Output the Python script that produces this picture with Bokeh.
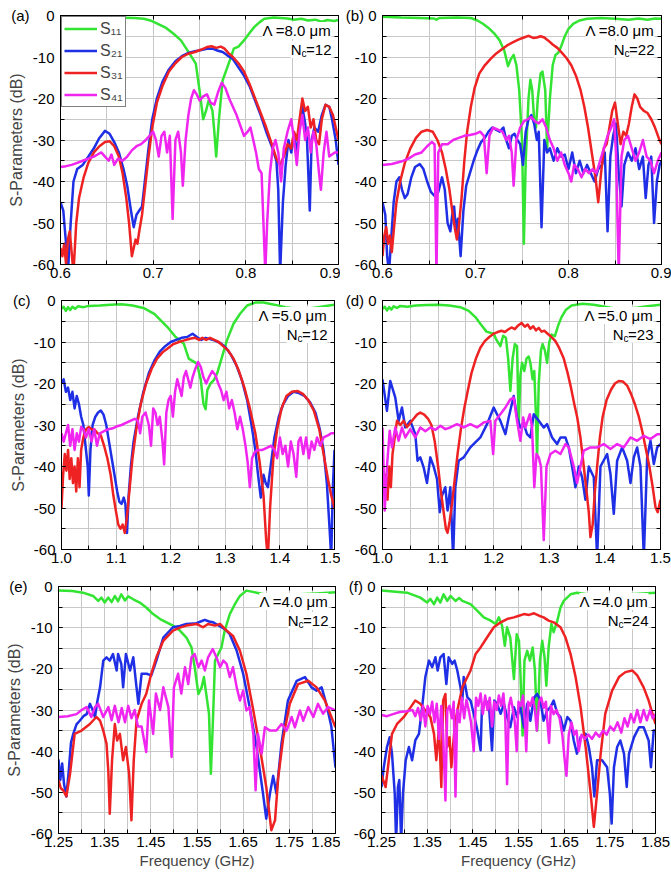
from bokeh.plotting import figure
from bokeh.layouts import column, row
from bokeh.models import (Range1d, FixedTicker, LinearAxis, Legend, LegendItem,
                          Label, PrintfTickFormatter)
from bokeh.embed import file_html
from bokeh.resources import INLINE

FONT = "Liberation Sans"
C11, C21, C31, C41 = "#33e433", "#1f2fe6", "#ee2222", "#f026f0"

# ---------------- tick values ----------------
X_MAJOR_AB = [0.6, 0.7, 0.8, 0.9]
X_MINOR_AB = [0.6, 0.65, 0.7, 0.75, 0.8, 0.85, 0.9]
X_MAJOR_CD = [1.0, 1.1, 1.2, 1.3, 1.4, 1.5]
X_MINOR_CD = [1.0, 1.05, 1.1, 1.15, 1.2, 1.25, 1.3, 1.35, 1.4, 1.45, 1.5]
X_MAJOR_EF = [1.25, 1.35, 1.45, 1.55, 1.65, 1.75, 1.85]
X_MINOR_EF = [1.25, 1.3, 1.35, 1.4, 1.45, 1.5, 1.55, 1.6, 1.65, 1.7, 1.75, 1.8, 1.85]
Y_MAJOR = [-60, -50, -40, -30, -20, -10, 0]
Y_MINOR = [-60, -55, -50, -45, -40, -35, -30, -25, -20, -15, -10, -5, 0]

# ---------------- panel (a): Lambda = 8.0 um, Nc = 12 ----------------
A_S11 = [(0.600,-0.3),(0.620,-0.4),(0.640,-0.5),(0.660,-0.5),(0.680,-0.6),(0.690,-0.8),(0.697,-1.2),(0.705,-2.0),(0.714,-3.0),(0.722,-4.4),(0.730,-6.0),(0.737,-8.4),(0.743,-10.5),(0.746,-11.6),(0.750,-18.0),(0.754,-25.0),(0.757,-23.0),(0.760,-20.4),(0.764,-23.0),(0.766,-28.0),(0.768,-34.0),(0.771,-25.0),(0.775,-15.6),(0.780,-12.5),(0.784,-10.0),(0.787,-8.0),(0.792,-7.5),(0.798,-6.0),(0.804,-4.2),(0.809,-2.8),(0.815,-1.6),(0.820,-0.8),(0.830,-0.5),(0.845,-0.7),(0.852,-1.0),(0.860,-0.8),(0.867,-1.2),(0.875,-1.0),(0.882,-1.5),(0.888,-1.1),(0.895,-1.3),(0.900,-1.1)]
A_S21 = [(0.600,-45),(0.603,-47),(0.606,-55),(0.608,-62),(0.611,-50),(0.614,-40),(0.618,-37),(0.624,-36),(0.630,-34),(0.636,-32),(0.642,-29.5),(0.648,-27.8),(0.653,-28.5),(0.658,-30.5),(0.663,-33),(0.668,-37),(0.672,-41),(0.676,-47),(0.679,-51),(0.682,-48),(0.685,-47),(0.688,-46),(0.691,-40),(0.695,-32),(0.699,-25),(0.704,-20),(0.710,-16),(0.717,-13),(0.724,-11),(0.731,-9.8),(0.738,-9),(0.745,-8.6),(0.752,-8.3),(0.758,-8.0),(0.764,-8.0),(0.770,-8.5),(0.775,-8.8),(0.780,-9.6),(0.786,-10.5),(0.792,-12.5),(0.798,-14.5),(0.804,-17),(0.810,-20.5),(0.816,-24),(0.822,-28),(0.828,-31.5),(0.833,-35),(0.835,-42),(0.837,-62),(0.840,-45),(0.843,-36),(0.846,-30),(0.849,-33),(0.852,-29),(0.855,-33),(0.858,-27),(0.861,-22),(0.864,-26),(0.866,-30),(0.869,-47),(0.871,-30),(0.874,-27),(0.878,-28),(0.882,-24),(0.886,-21.5),(0.890,-22),(0.893,-25),(0.897,-30),(0.900,-36)]
A_S31 = [(0.600,-56),(0.602,-58),(0.604,-55),(0.606,-60),(0.608,-54),(0.610,-52),(0.612,-57),(0.614,-62),(0.617,-50),(0.620,-44),(0.625,-39),(0.630,-35.5),(0.636,-33),(0.642,-31.5),(0.648,-30.5),(0.653,-30.3),(0.658,-31.5),(0.663,-34),(0.667,-38),(0.671,-44),(0.674,-50),(0.677,-58),(0.679,-56),(0.681,-54),(0.683,-55),(0.685,-52),(0.688,-48),(0.691,-42),(0.695,-34),(0.699,-27),(0.704,-21),(0.710,-17),(0.717,-13.5),(0.724,-11.5),(0.731,-10),(0.738,-9.2),(0.745,-8.8),(0.752,-8.2),(0.758,-7.6),(0.763,-7.4),(0.768,-7.8),(0.773,-7.5),(0.777,-8.0),(0.781,-9.0),(0.786,-10),(0.792,-11.5),(0.798,-13.5),(0.804,-16.5),(0.810,-20),(0.816,-23.5),(0.822,-27),(0.828,-31),(0.833,-34.5),(0.837,-36),(0.841,-34),(0.845,-31),(0.849,-32),(0.852,-28),(0.855,-30),(0.858,-25),(0.861,-20),(0.864,-23),(0.867,-22),(0.870,-27),(0.873,-25),(0.876,-30),(0.879,-31),(0.882,-25),(0.886,-21.5),(0.890,-22),(0.894,-24),(0.897,-27),(0.900,-30)]
A_S41 = [(0.600,-36.5),(0.606,-36.3),(0.612,-36),(0.618,-35.5),(0.624,-35),(0.630,-34.5),(0.636,-34),(0.640,-33.5),(0.644,-33),(0.648,-34),(0.652,-35),(0.655,-33.5),(0.658,-36),(0.662,-34.5),(0.667,-35),(0.672,-34),(0.677,-32.5),(0.682,-31.5),(0.687,-31),(0.692,-30),(0.696,-29),(0.700,-28),(0.703,-30),(0.706,-34),(0.709,-29),(0.712,-28),(0.715,-33),(0.718,-29),(0.721,-49),(0.724,-30),(0.727,-28),(0.730,-33),(0.732,-41),(0.735,-30),(0.738,-24),(0.741,-20),(0.744,-18),(0.747,-19),(0.750,-20.5),(0.754,-19.5),(0.758,-19),(0.762,-21),(0.766,-21.5),(0.770,-18.5),(0.774,-16.2),(0.778,-17.5),(0.782,-20),(0.786,-22),(0.790,-24),(0.794,-26.5),(0.798,-29),(0.802,-28),(0.805,-27),(0.808,-30),(0.811,-33),(0.814,-37),(0.817,-38),(0.819,-50),(0.821,-62),(0.823,-50),(0.826,-38),(0.829,-32),(0.832,-30),(0.835,-33),(0.838,-40),(0.841,-32),(0.845,-28),(0.849,-25),(0.852,-30),(0.855,-36),(0.858,-28),(0.861,-24),(0.864,-30),(0.867,-27),(0.870,-33),(0.873,-28),(0.876,-31),(0.879,-38),(0.881,-42),(0.884,-33),(0.887,-28),(0.890,-34),(0.893,-33.5),(0.896,-33),(0.900,-33)]

# ---------------- panel (b): Lambda = 8.0 um, Nc = 22 ----------------
B_S11 = [(0.600,-0.3),(0.620,-0.5),(0.640,-0.6),(0.655,-0.7),(0.658,-1.0),(0.661,-0.6),(0.680,-0.5),(0.695,-0.6),(0.702,-1.2),(0.708,-2.0),(0.714,-3.0),(0.720,-4.3),(0.726,-6.0),(0.731,-8.5),(0.735,-12.2),(0.738,-10.5),(0.741,-9.5),(0.744,-12),(0.747,-18),(0.750,-30),(0.752,-55),(0.754,-35),(0.757,-20),(0.759,-15.5),(0.761,-18),(0.763,-25),(0.765,-27),(0.767,-20),(0.770,-14),(0.772,-13.5),(0.775,-18),(0.777,-32),(0.780,-20),(0.783,-12),(0.786,-9.5),(0.789,-9),(0.792,-7.5),(0.796,-5),(0.800,-3.2),(0.805,-2),(0.812,-1.2),(0.820,-0.8),(0.835,-0.6),(0.850,-0.8),(0.865,-1.0),(0.875,-0.7),(0.885,-1.0),(0.893,-0.7),(0.900,-0.8)]
B_S21 = [(0.600,-45),(0.603,-48),(0.605,-58),(0.607,-62),(0.609,-55),(0.612,-45),(0.615,-40),(0.618,-39),(0.621,-42),(0.624,-44),(0.627,-43),(0.631,-39),(0.635,-36.5),(0.640,-35.8),(0.644,-37),(0.648,-40),(0.652,-42.5),(0.656,-43.5),(0.660,-42.5),(0.664,-39),(0.667,-42),(0.670,-50),(0.673,-52),(0.675,-48),(0.677,-46),(0.679,-52),(0.681,-49),(0.684,-58),(0.687,-47),(0.690,-41),(0.694,-38),(0.698,-35),(0.702,-32.5),(0.706,-30.5),(0.710,-29.5),(0.714,-28),(0.718,-27),(0.722,-27.5),(0.726,-28),(0.730,-27),(0.733,-30),(0.736,-32),(0.739,-29),(0.742,-28.5),(0.745,-30),(0.748,-31),(0.751,-36),(0.754,-28),(0.757,-25),(0.760,-24),(0.763,-26),(0.766,-30),(0.768,-28),(0.771,-51),(0.774,-30),(0.777,-33),(0.780,-32),(0.784,-35),(0.788,-32),(0.792,-34),(0.796,-33.5),(0.800,-37),(0.804,-33),(0.808,-38),(0.812,-35),(0.816,-38),(0.820,-36),(0.824,-38),(0.828,-40),(0.832,-37),(0.836,-36),(0.839,-33),(0.842,-52),(0.845,-34),(0.848,-29),(0.851,-26),(0.854,-38),(0.857,-46),(0.860,-36),(0.864,-33),(0.868,-35),(0.872,-32),(0.876,-37),(0.880,-34),(0.883,-44),(0.886,-36),(0.889,-34),(0.892,-50),(0.895,-40),(0.898,-36),(0.900,-35)]
B_S31 = [(0.600,-58),(0.602,-53),(0.604,-51),(0.606,-55),(0.608,-53),(0.610,-57),(0.612,-52),(0.615,-45),(0.619,-40),(0.624,-35.5),(0.630,-32),(0.636,-29.5),(0.642,-28),(0.648,-27.6),(0.654,-28),(0.659,-30),(0.664,-33),(0.668,-37),(0.672,-42),(0.675,-47),(0.678,-51.5),(0.680,-54),(0.682,-51),(0.685,-44),(0.688,-35),(0.691,-28),(0.695,-22),(0.699,-17.5),(0.704,-14),(0.710,-12),(0.716,-10.5),(0.722,-9.2),(0.728,-8.2),(0.734,-7.2),(0.740,-6.5),(0.746,-5.8),(0.752,-5.3),(0.757,-4.9),(0.762,-5.4),(0.766,-5.3),(0.770,-5.0),(0.774,-5.3),(0.778,-6.0),(0.783,-7.0),(0.788,-7.8),(0.793,-9.0),(0.798,-10.3),(0.803,-12),(0.808,-14.5),(0.813,-18),(0.817,-22),(0.821,-27),(0.825,-33),(0.829,-39),(0.832,-45),(0.835,-38),(0.838,-32),(0.841,-31),(0.844,-27),(0.847,-23),(0.850,-21),(0.853,-26),(0.856,-31),(0.859,-28),(0.862,-29),(0.865,-26),(0.868,-22),(0.871,-19),(0.874,-20),(0.877,-22),(0.881,-23),(0.885,-23.5),(0.889,-25),(0.893,-27),(0.897,-29.5),(0.900,-31)]
B_S41 = [(0.600,-36),(0.610,-35.8),(0.620,-35.2),(0.628,-34.5),(0.635,-33.5),(0.642,-33),(0.648,-31.5),(0.653,-30.5),(0.656,-31),(0.658,-62),(0.660,-33),(0.664,-31),(0.670,-31),(0.676,-30),(0.682,-29.5),(0.688,-29),(0.694,-28.8),(0.700,-28.5),(0.705,-28),(0.709,-29),(0.712,-38),(0.715,-29),(0.719,-27),(0.724,-27.5),(0.729,-28),(0.733,-30),(0.736,-29),(0.739,-33),(0.741,-41),(0.744,-30),(0.748,-27),(0.752,-25.5),(0.756,-25),(0.760,-24.5),(0.764,-25.5),(0.768,-26),(0.772,-25),(0.776,-27),(0.780,-30),(0.784,-32),(0.788,-35),(0.792,-33),(0.796,-36),(0.800,-38),(0.803,-40),(0.806,-36),(0.810,-37),(0.814,-39),(0.818,-37),(0.822,-38),(0.826,-37),(0.830,-38),(0.834,-35),(0.838,-32),(0.842,-29),(0.846,-27),(0.849,-25),(0.851,-33),(0.854,-62),(0.857,-34),(0.860,-30),(0.864,-29),(0.868,-32),(0.872,-35),(0.876,-33),(0.880,-30),(0.884,-34),(0.888,-35),(0.892,-38),(0.896,-35),(0.900,-33)]

# ---------------- panel (c): Lambda = 5.0 um, Nc = 12 ----------------
C_S11 = [(1.000,-2.0),(1.004,-1.5),(1.008,-2.5),(1.012,-1.6),(1.016,-2.3),(1.020,-1.5),(1.025,-2.0),(1.030,-1.4),(1.040,-1.6),(1.050,-1.3),(1.070,-1.2),(1.090,-1.0),(1.110,-0.9),(1.130,-1.2),(1.150,-1.8),(1.170,-3.2),(1.194,-6.4),(1.209,-8.8),(1.224,-10.4),(1.233,-14.0),(1.248,-15.2),(1.255,-19.0),(1.260,-24.9),(1.264,-26.2),(1.267,-21.6),(1.273,-20.0),(1.279,-19.2),(1.285,-17.6),(1.294,-13.6),(1.303,-9.6),(1.315,-5.6),(1.327,-3.2),(1.340,-1.2),(1.355,-0.5),(1.370,-0.5),(1.390,-1.0),(1.410,-1.6),(1.430,-2.0),(1.450,-2.0),(1.470,-1.6),(1.490,-1.2),(1.500,-1.0)]
C_S21 = [(1.000,-20),(1.004,-19),(1.008,-22),(1.012,-21),(1.016,-24),(1.020,-22),(1.024,-26),(1.028,-23),(1.032,-25),(1.036,-28),(1.040,-30),(1.044,-35),(1.048,-40),(1.050,-47),(1.053,-36),(1.057,-30),(1.062,-28),(1.067,-27),(1.072,-26.5),(1.077,-27.5),(1.082,-30),(1.087,-34),(1.092,-38),(1.097,-42),(1.102,-46),(1.106,-48.5),(1.110,-49),(1.114,-47.5),(1.117,-49),(1.120,-56),(1.123,-47),(1.127,-40),(1.132,-34),(1.140,-28),(1.150,-22),(1.160,-17.5),(1.170,-14.5),(1.180,-12.3),(1.190,-11),(1.200,-10),(1.210,-9.5),(1.220,-9.0),(1.230,-8.8),(1.240,-8.0),(1.248,-8.8),(1.256,-9.5),(1.264,-9.0),(1.272,-9.3),(1.280,-9.6),(1.290,-10.2),(1.300,-11.2),(1.310,-13),(1.320,-15.5),(1.330,-19),(1.340,-24),(1.348,-30),(1.355,-36),(1.360,-42),(1.365,-47.5),(1.370,-42),(1.374,-44),(1.378,-45),(1.383,-40),(1.390,-33),(1.398,-28),(1.406,-25),(1.415,-23),(1.425,-22),(1.435,-22.3),(1.445,-23),(1.455,-24.5),(1.465,-27),(1.473,-31),(1.480,-36),(1.486,-44),(1.491,-55),(1.494,-62),(1.497,-45),(1.500,-36)]
C_S31 = [(1.000,-50),(1.003,-42),(1.006,-37),(1.009,-41),(1.012,-36),(1.015,-43),(1.018,-38),(1.021,-44),(1.024,-40),(1.027,-46),(1.030,-38),(1.033,-45),(1.036,-36),(1.040,-33),(1.045,-31),(1.050,-30.5),(1.055,-31),(1.060,-31),(1.066,-32),(1.072,-32.5),(1.078,-35),(1.084,-38),(1.090,-42),(1.095,-47),(1.100,-51),(1.104,-54),(1.108,-55),(1.112,-54),(1.116,-56),(1.120,-52),(1.125,-45),(1.130,-38),(1.137,-31),(1.145,-25),(1.155,-20),(1.165,-16.5),(1.175,-14),(1.185,-12.5),(1.195,-11.5),(1.205,-10.5),(1.215,-10),(1.225,-9.6),(1.235,-9.2),(1.245,-9.0),(1.252,-9.5),(1.258,-9.0),(1.265,-9.5),(1.272,-9.0),(1.280,-9.5),(1.288,-10),(1.296,-11),(1.305,-12),(1.315,-14),(1.325,-17),(1.335,-21),(1.345,-26),(1.355,-32),(1.363,-39),(1.370,-47),(1.375,-58),(1.378,-62),(1.382,-50),(1.388,-38),(1.395,-31),(1.403,-26),(1.412,-23),(1.422,-22),(1.432,-21.8),(1.442,-22.5),(1.452,-24),(1.462,-26.5),(1.472,-31),(1.480,-37),(1.488,-43),(1.494,-47),(1.500,-50)]
C_S41 = [(1.000,-32),(1.004,-34),(1.008,-32),(1.012,-30),(1.016,-35),(1.020,-31),(1.024,-36),(1.028,-32),(1.032,-34),(1.036,-30.5),(1.040,-31),(1.045,-33),(1.050,-31),(1.055,-34),(1.060,-31),(1.065,-35),(1.070,-32),(1.078,-31.5),(1.086,-31),(1.094,-30.8),(1.102,-30.3),(1.110,-30),(1.118,-29.5),(1.126,-29),(1.134,-28.5),(1.140,-29),(1.144,-32),(1.148,-28),(1.154,-27),(1.160,-30),(1.164,-35),(1.168,-26),(1.172,-27),(1.176,-30),(1.180,-28),(1.185,-34),(1.188,-39.5),(1.192,-27),(1.196,-24),(1.200,-23),(1.204,-28),(1.208,-22),(1.212,-19),(1.216,-21),(1.220,-23),(1.224,-18.5),(1.228,-17),(1.232,-19),(1.236,-21),(1.240,-18.5),(1.245,-16.5),(1.250,-14.8),(1.255,-16),(1.260,-18.5),(1.265,-20),(1.270,-18.5),(1.276,-17),(1.282,-18),(1.287,-20),(1.292,-21.5),(1.297,-24),(1.302,-22),(1.307,-26),(1.312,-24),(1.317,-27),(1.322,-31),(1.327,-28),(1.332,-31),(1.337,-35),(1.341,-39),(1.345,-45),(1.349,-38),(1.354,-36.5),(1.360,-36),(1.368,-36),(1.376,-35.5),(1.384,-35),(1.390,-36),(1.395,-38),(1.400,-33),(1.405,-37),(1.410,-35),(1.415,-40),(1.420,-34),(1.425,-37),(1.430,-42.5),(1.434,-34),(1.438,-33),(1.443,-37),(1.448,-33),(1.453,-38),(1.458,-34),(1.463,-36),(1.468,-33),(1.474,-35),(1.480,-33),(1.488,-32.5),(1.494,-32),(1.500,-32)]

# ---------------- panel (d): Lambda = 5.0 um, Nc = 23 ----------------
D_S11 = [(1.000,-2.0),(1.004,-1.5),(1.008,-2.4),(1.012,-1.6),(1.016,-2.2),(1.020,-1.4),(1.026,-1.8),(1.032,-1.3),(1.045,-1.5),(1.060,-1.2),(1.080,-1.1),(1.100,-1.0),(1.120,-1.2),(1.140,-1.6),(1.155,-2.5),(1.167,-4.0),(1.177,-5.8),(1.187,-7.5),(1.200,-8.0),(1.205,-9.5),(1.212,-11),(1.217,-8.5),(1.222,-9),(1.226,-14),(1.230,-21.8),(1.234,-14),(1.238,-10.5),(1.242,-11),(1.245,-30),(1.248,-18),(1.251,-15),(1.255,-17),(1.259,-14),(1.263,-13.5),(1.266,-15),(1.270,-19),(1.273,-17),(1.276,-28),(1.278,-37.8),(1.281,-20),(1.285,-12),(1.288,-10.5),(1.292,-12),(1.296,-15),(1.300,-10),(1.304,-8.2),(1.310,-8.6),(1.316,-6),(1.322,-4),(1.330,-2.2),(1.340,-1.2),(1.360,-0.8),(1.380,-1.0),(1.400,-1.5),(1.420,-2.0),(1.440,-2.0),(1.460,-1.7),(1.480,-1.3),(1.500,-1.0)]
D_S21 = [(1.000,-19),(1.008,-26.6),(1.014,-19.4),(1.023,-23.4),(1.029,-29),(1.035,-25.8),(1.041,-30.6),(1.050,-29),(1.059,-32.2),(1.063,-38.6),(1.068,-37.8),(1.074,-40.2),(1.080,-44),(1.086,-37.8),(1.092,-40),(1.098,-43),(1.103,-51),(1.107,-47),(1.113,-45),(1.117,-50.6),(1.122,-45),(1.127,-62),(1.131,-45),(1.137,-38.6),(1.146,-37.8),(1.158,-35.4),(1.176,-33),(1.188,-29.8),(1.200,-25.8),(1.206,-27.4),(1.212,-29),(1.221,-32.2),(1.227,-28.2),(1.236,-23),(1.242,-28.2),(1.248,-30.6),(1.254,-29.8),(1.260,-32.2),(1.266,-33),(1.272,-27.4),(1.281,-29),(1.290,-30.6),(1.296,-29.8),(1.305,-33),(1.314,-34.6),(1.320,-33),(1.329,-33),(1.335,-35.4),(1.341,-40),(1.347,-45),(1.353,-40),(1.359,-42.6),(1.365,-48),(1.371,-40),(1.380,-42.6),(1.386,-62),(1.392,-40),(1.404,-37),(1.410,-41.8),(1.416,-51.4),(1.422,-38.6),(1.431,-35.4),(1.440,-38.6),(1.446,-44),(1.452,-37.8),(1.458,-35.4),(1.464,-40),(1.470,-62),(1.476,-37.8),(1.482,-33.8),(1.488,-39.4),(1.494,-35.4),(1.500,-34.6)]
D_S31 = [(1.000,-38),(1.003,-46),(1.006,-42),(1.009,-48),(1.012,-40),(1.015,-45),(1.018,-37),(1.022,-33),(1.026,-29),(1.032,-30),(1.038,-29),(1.044,-30.5),(1.050,-29.5),(1.056,-28.5),(1.062,-27.5),(1.068,-27),(1.075,-27.5),(1.082,-28.5),(1.088,-30),(1.094,-34),(1.100,-40),(1.105,-46),(1.110,-51),(1.114,-55),(1.117,-56),(1.121,-53),(1.125,-49),(1.130,-43),(1.135,-37),(1.141,-31),(1.147,-26),(1.153,-22),(1.160,-17.5),(1.168,-14),(1.176,-11.4),(1.184,-9.8),(1.192,-8.8),(1.200,-8.0),(1.207,-7.6),(1.214,-7.3),(1.220,-7.6),(1.226,-7.0),(1.232,-6.5),(1.238,-6.9),(1.244,-6.0),(1.250,-5.4),(1.256,-6.3),(1.261,-5.8),(1.266,-6.8),(1.271,-6.2),(1.276,-7.2),(1.281,-6.6),(1.286,-7.5),(1.291,-7.3),(1.297,-8.0),(1.304,-8.8),(1.311,-9.8),(1.318,-11.5),(1.326,-14),(1.333,-17.5),(1.339,-21),(1.345,-25),(1.350,-28),(1.356,-33),(1.362,-40),(1.367,-46),(1.371,-51),(1.374,-57),(1.378,-54),(1.382,-46),(1.386,-40),(1.391,-33),(1.396,-28),(1.403,-24),(1.411,-21.5),(1.418,-20),(1.425,-19.4),(1.432,-19.5),(1.440,-20.5),(1.447,-22.5),(1.454,-25),(1.461,-28),(1.468,-32),(1.474,-36),(1.480,-40),(1.486,-45),(1.491,-49.8),(1.495,-51),(1.500,-48)]
D_S41 = [(1.000,-30.6),(1.004,-50.6),(1.008,-40),(1.013,-31.4),(1.017,-35.4),(1.023,-30.6),(1.029,-33.8),(1.035,-30.6),(1.041,-33),(1.050,-31),(1.059,-33),(1.068,-30.6),(1.077,-31.5),(1.086,-30.6),(1.095,-31.2),(1.104,-30.2),(1.113,-31),(1.122,-30.6),(1.134,-29.8),(1.146,-30.6),(1.158,-29.8),(1.170,-30.6),(1.182,-29.4),(1.194,-29),(1.199,-37),(1.203,-29),(1.212,-27.4),(1.221,-25.8),(1.230,-23.8),(1.236,-23.4),(1.242,-29),(1.248,-33.8),(1.253,-28.2),(1.257,-30.6),(1.265,-27.4),(1.269,-30.6),(1.273,-45),(1.277,-37),(1.281,-37.8),(1.285,-40),(1.290,-57.7),(1.295,-40),(1.302,-37),(1.311,-36.2),(1.320,-37),(1.329,-34.6),(1.335,-35.4),(1.344,-40),(1.350,-44),(1.356,-40),(1.362,-36.2),(1.374,-35.4),(1.386,-35.4),(1.398,-34.6),(1.410,-35.8),(1.422,-34.6),(1.434,-35.4),(1.446,-33),(1.458,-33.8),(1.470,-32.6),(1.482,-33.4),(1.494,-32.2),(1.500,-32.2)]

# ---------------- panel (e): Lambda = 4.0 um, Nc = 12 ----------------
E_S11 = [(1.250,-1.0),(1.280,-1.1),(1.303,-1.5),(1.325,-2.3),(1.336,-3.5),(1.343,-2.7),(1.350,-3.9),(1.358,-2.7),(1.365,-3.8),(1.372,-2.3),(1.379,-3.6),(1.386,-1.9),(1.394,-3.4),(1.401,-2.4),(1.412,-3.1),(1.426,-3.9),(1.440,-5.1),(1.455,-6.7),(1.470,-7.9),(1.484,-8.7),(1.498,-9.5),(1.513,-10.7),(1.527,-12.4),(1.538,-14.8),(1.545,-19.6),(1.553,-26.1),(1.560,-24.5),(1.565,-22.0),(1.571,-26.9),(1.576,-30.9),(1.580,-45.5),(1.584,-34.2),(1.589,-18.0),(1.596,-16.4),(1.603,-14.8),(1.610,-10.7),(1.621,-6.7),(1.632,-4.3),(1.643,-2.3),(1.657,-1.0),(1.679,-1.5),(1.700,-2.0),(1.737,-1.9),(1.773,-1.9),(1.809,-1.7),(1.850,-1.4)]
E_S21 = [(1.250,-42),(1.254,-47),(1.258,-43),(1.262,-48),(1.267,-51),(1.272,-45),(1.277,-38),(1.282,-35.8),(1.289,-33.5),(1.296,-32.6),(1.304,-31.5),(1.311,-31),(1.318,-28.5),(1.324,-30),(1.329,-31.7),(1.334,-28),(1.340,-24.5),(1.347,-18),(1.354,-17.2),(1.361,-18),(1.368,-16.4),(1.376,-20.4),(1.379,-16.4),(1.386,-18.8),(1.390,-24.5),(1.396,-16.4),(1.405,-20.4),(1.412,-17.2),(1.419,-24.5),(1.423,-28.5),(1.430,-21.2),(1.441,-21.2),(1.451,-21.6),(1.462,-18),(1.477,-12.4),(1.498,-9.9),(1.513,-9.6),(1.527,-9.1),(1.549,-8.9),(1.558,-8.5),(1.567,-8.1),(1.576,-8.5),(1.585,-8.7),(1.594,-9.3),(1.603,-9.9),(1.612,-10.5),(1.621,-11.6),(1.636,-15.6),(1.650,-21.2),(1.664,-29.3),(1.679,-39),(1.693,-50.3),(1.700,-56.4),(1.708,-50.3),(1.715,-46),(1.722,-50.3),(1.733,-38.2),(1.747,-27.7),(1.766,-22.9),(1.784,-22),(1.798,-24.5),(1.809,-25.3),(1.820,-24.5),(1.830,-28.5),(1.841,-34),(1.850,-44)]
E_S31 = [(1.250,-47),(1.255,-49),(1.260,-49.5),(1.267,-51),(1.275,-45.5),(1.285,-35.8),(1.300,-35),(1.318,-33.4),(1.332,-31.7),(1.340,-32.6),(1.347,-35),(1.354,-38.2),(1.358,-45),(1.361,-55.2),(1.366,-42.2),(1.372,-33.4),(1.377,-37.4),(1.383,-35.8),(1.390,-42.2),(1.396,-39),(1.403,-45.5),(1.408,-56.8),(1.413,-42.2),(1.419,-32.6),(1.430,-28.5),(1.440,-26.1),(1.451,-21.2),(1.462,-17.2),(1.477,-13.2),(1.498,-10.7),(1.513,-10.0),(1.527,-9.5),(1.549,-9.1),(1.563,-9.9),(1.574,-9.1),(1.589,-9.5),(1.600,-9.1),(1.614,-10.7),(1.628,-12),(1.643,-15.6),(1.657,-21.2),(1.672,-30.1),(1.686,-39),(1.700,-48.7),(1.711,-59.2),(1.719,-56.8),(1.726,-46.3),(1.737,-36.6),(1.751,-28.5),(1.769,-23.7),(1.791,-22.9),(1.809,-24.5),(1.827,-27.7),(1.850,-34.2)]
E_S41 = [(1.250,-31.7),(1.270,-31.5),(1.289,-31),(1.300,-30),(1.311,-29.3),(1.321,-31.7),(1.329,-29.3),(1.336,-28.5),(1.347,-31.7),(1.358,-29.3),(1.365,-32.5),(1.372,-29),(1.380,-33),(1.387,-29.5),(1.394,-33),(1.401,-29),(1.408,-32),(1.415,-30),(1.422,-34),(1.430,-34),(1.440,-40.2),(1.446,-27.7),(1.455,-35.8),(1.461,-26),(1.470,-30),(1.477,-24.5),(1.488,-29.3),(1.495,-41.4),(1.500,-24.5),(1.509,-21.2),(1.516,-26),(1.524,-19.6),(1.531,-23.7),(1.538,-17.2),(1.545,-16.4),(1.553,-19.6),(1.560,-18),(1.567,-20.4),(1.574,-17.2),(1.584,-15.2),(1.592,-17.2),(1.600,-19.6),(1.607,-18),(1.614,-18.8),(1.621,-22),(1.628,-19.6),(1.636,-24.5),(1.643,-27.7),(1.650,-25.3),(1.657,-30.1),(1.664,-29.3),(1.672,-35.8),(1.677,-49.5),(1.682,-35.8),(1.690,-40.6),(1.697,-34.2),(1.708,-35),(1.722,-35),(1.733,-33.4),(1.744,-35),(1.755,-31.7),(1.762,-34.2),(1.773,-30.1),(1.780,-32.6),(1.791,-29.3),(1.802,-31.7),(1.812,-28.5),(1.823,-30.9),(1.834,-29.3),(1.850,-30.1)]

# ---------------- panel (f): Lambda = 4.0 um, Nc = 24 ----------------
F_S11 = [(1.250,-1.0),(1.306,-1.5),(1.335,-2.7),(1.350,-3.9),(1.357,-3.0),(1.365,-4.3),(1.372,-2.7),(1.379,-3.9),(1.386,-1.9),(1.394,-3.5),(1.401,-2.3),(1.412,-3.5),(1.420,-2.8),(1.427,-3.5),(1.445,-4.3),(1.460,-5.9),(1.474,-7.5),(1.489,-8.3),(1.500,-9.1),(1.507,-7.5),(1.514,-9.5),(1.520,-14.4),(1.525,-9.9),(1.532,-12.4),(1.540,-22.5),(1.546,-11.6),(1.551,-13.2),(1.554,-20.4),(1.559,-36.2),(1.563,-18),(1.569,-15.6),(1.575,-18),(1.581,-14.8),(1.586,-20.4),(1.591,-35),(1.597,-18),(1.602,-13.2),(1.607,-17.2),(1.611,-24.1),(1.616,-14.8),(1.622,-9.1),(1.627,-11.1),(1.635,-8.3),(1.642,-5.1),(1.649,-3.5),(1.664,-1.9),(1.678,-1.5),(1.700,-1.9),(1.722,-1.9),(1.759,-1.9),(1.795,-1.9),(1.850,-1.5)]
F_S21 = [(1.250,-48.7),(1.255,-43.9),(1.262,-39),(1.268,-36.6),(1.273,-40.6),(1.279,-50.3),(1.282,-62),(1.286,-48.7),(1.289,-47),(1.293,-62),(1.297,-50.3),(1.303,-42.2),(1.310,-39),(1.317,-42.2),(1.324,-37.4),(1.332,-35.8),(1.339,-29.3),(1.346,-22),(1.354,-18),(1.361,-19.6),(1.368,-17.2),(1.373,-20.4),(1.379,-17.2),(1.386,-16.4),(1.392,-23.7),(1.397,-17.2),(1.405,-18.8),(1.410,-18),(1.416,-20.4),(1.423,-24.5),(1.427,-27.7),(1.430,-22),(1.438,-26.9),(1.445,-27.7),(1.452,-30.9),(1.460,-35),(1.467,-39.8),(1.470,-29.3),(1.478,-27.7),(1.485,-28.5),(1.492,-39.8),(1.497,-27.7),(1.503,-28.5),(1.511,-30.9),(1.518,-28.5),(1.525,-31.7),(1.532,-34.2),(1.540,-29.3),(1.547,-31.7),(1.554,-29.3),(1.562,-34.2),(1.569,-28.5),(1.576,-32.6),(1.584,-27),(1.591,-26.1),(1.598,-27.7),(1.605,-32.6),(1.613,-30.1),(1.620,-29.3),(1.627,-27.7),(1.635,-30.9),(1.642,-31.7),(1.649,-35),(1.657,-31.7),(1.664,-32.6),(1.671,-37.4),(1.678,-40.6),(1.686,-36.6),(1.697,-35.8),(1.704,-39),(1.711,-43.9),(1.716,-51),(1.722,-42.2),(1.733,-42.2),(1.744,-43.9),(1.750,-50.3),(1.754,-57.6),(1.759,-43.9),(1.766,-39),(1.773,-37.4),(1.781,-40.6),(1.787,-48.7),(1.792,-40.6),(1.803,-36.6),(1.814,-34.2),(1.824,-34.2),(1.835,-37.4),(1.840,-43.9),(1.846,-35),(1.850,-35)]
F_S31 = [(1.250,-45.9),(1.259,-48.7),(1.266,-42.2),(1.273,-35.8),(1.284,-33.4),(1.299,-31.7),(1.314,-29.3),(1.324,-27.7),(1.335,-28.5),(1.346,-30.1),(1.357,-31.7),(1.365,-35.8),(1.370,-42.2),(1.376,-34.2),(1.381,-48.7),(1.385,-27.7),(1.390,-26.1),(1.394,-39),(1.399,-36.6),(1.403,-43.9),(1.410,-34.2),(1.416,-30.1),(1.427,-24.5),(1.438,-22),(1.445,-20.4),(1.456,-16.4),(1.467,-14.8),(1.481,-12.4),(1.496,-9.9),(1.511,-8.7),(1.525,-7.9),(1.540,-7.5),(1.551,-7.1),(1.562,-6.7),(1.573,-6.9),(1.584,-6.5),(1.595,-7.1),(1.605,-7.5),(1.616,-8.3),(1.627,-8.7),(1.642,-9.9),(1.653,-12.4),(1.664,-16.4),(1.675,-22),(1.686,-29.3),(1.697,-39),(1.708,-50.3),(1.715,-58.4),(1.722,-50.3),(1.730,-40.6),(1.740,-30.9),(1.755,-25.3),(1.770,-22),(1.784,-20.8),(1.799,-20.4),(1.810,-21.6),(1.824,-24.5),(1.835,-27.7),(1.850,-33.4)]
F_S41 = [(1.250,-31.2),(1.262,-31.5),(1.275,-31),(1.290,-30.5),(1.305,-30.3),(1.318,-30),(1.324,-31.5),(1.330,-29.5),(1.336,-32.5),(1.341,-29),(1.346,-34),(1.351,-29),(1.356,-31),(1.361,-28),(1.366,-33),(1.371,-28.5),(1.376,-37),(1.381,-29),(1.385,-36),(1.390,-52),(1.394,-30),(1.399,-29),(1.404,-32),(1.408,-28),(1.412,-51),(1.416,-30),(1.421,-33),(1.426,-27),(1.431,-32),(1.436,-27.5),(1.441,-30),(1.446,-33),(1.452,-40),(1.457,-27),(1.462,-29),(1.467,-26),(1.472,-31),(1.477,-26.5),(1.482,-30),(1.487,-27),(1.492,-34),(1.497,-28),(1.502,-30),(1.507,-26.5),(1.512,-29),(1.517,-26),(1.521,-32),(1.525,-48),(1.529,-29),(1.533,-27),(1.538,-30),(1.542,-33),(1.546,-40),(1.550,-28),(1.555,-29),(1.560,-26.5),(1.564,-33),(1.567,-40),(1.571,-28),(1.576,-29),(1.581,-27),(1.586,-30),(1.590,-35),(1.595,-28),(1.600,-27),(1.605,-29.5),(1.610,-28),(1.614,-34),(1.617,-38),(1.621,-29),(1.627,-31),(1.633,-30),(1.640,-32),(1.646,-36),(1.651,-42),(1.655,-46),(1.660,-36),(1.666,-33),(1.672,-36),(1.677,-35),(1.682,-40),(1.688,-36),(1.695,-37),(1.703,-36),(1.711,-37),(1.719,-35.5),(1.727,-36.5),(1.735,-35),(1.743,-36),(1.751,-34),(1.759,-35),(1.767,-33),(1.775,-35.5),(1.782,-32),(1.789,-34),(1.796,-31),(1.803,-33),(1.810,-30),(1.817,-33),(1.824,-30),(1.831,-32.5),(1.838,-30),(1.844,-32),(1.850,-31)]

PANELS = [
    dict(tag="(a)", lam="Λ =8.0 μm", nc="12", curves=[A_S11, A_S21, A_S31, A_S41],
         xr=(0.6, 0.9), xmaj=X_MAJOR_AB, xmin=X_MINOR_AB, fmt="%.1f",
         W=340, H=285, bl=60, br=2, bt=15, bb=21, col=0, row=0),
    dict(tag="(b)", lam="Λ =8.0 μm", nc="22", curves=[B_S11, B_S21, B_S31, B_S41],
         xr=(0.6, 0.9), xmaj=X_MAJOR_AB, xmin=X_MINOR_AB, fmt="%.1f",
         W=331, H=285, bl=42, br=10, bt=14, bb=21, col=1, row=0),
    dict(tag="(c)", lam="Λ =5.0 μm", nc="12", curves=[C_S11, C_S21, C_S31, C_S41],
         xr=(1.0, 1.5), xmaj=X_MAJOR_CD, xmin=X_MINOR_CD, fmt="%.1f",
         W=340, H=285, bl=61, br=6, bt=15, bb=21, col=0, row=1),
    dict(tag="(d)", lam="Λ =5.0 μm", nc="23", curves=[D_S11, D_S21, D_S31, D_S41],
         xr=(1.0, 1.5), xmaj=X_MAJOR_CD, xmin=X_MINOR_CD, fmt="%.1f",
         W=331, H=285, bl=42, br=11, bt=14, bb=21, col=1, row=1),
    dict(tag="(e)", lam="Λ =4.0 μm", nc="12", curves=[E_S11, E_S21, E_S31, E_S41],
         xr=(1.25, 1.85), xmaj=X_MAJOR_EF, xmin=X_MINOR_EF, fmt="%.2f",
         W=340, H=303, bl=58, br=5, bt=16, bb=40, col=0, row=2),
    dict(tag="(f)", lam="Λ =4.0 μm", nc="24", curves=[F_S11, F_S21, F_S31, F_S41],
         xr=(1.25, 1.85), xmaj=X_MAJOR_EF, xmin=X_MINOR_EF, fmt="%.2f",
         W=331, H=303, bl=41, br=16, bt=16, bb=40, col=1, row=2),
]

COLORS = [C11, C21, C31, C41]
NAMES = ["S₁₁", "S₂₁", "S₃₁", "S₄₁"]
GRID = "#c8c8c8"
NB = "\u00a0"


def style_ticks(ax):
    ax.axis_line_color = "black"
    ax.major_tick_line_color = "black"
    ax.minor_tick_line_color = "black"
    ax.major_tick_in = 4
    ax.major_tick_out = 0
    ax.minor_tick_in = 4
    ax.minor_tick_out = 0


def make_panel(s):
    fh = s["H"] - s["bt"] - s["bb"]
    ppd = fh / 60.0
    p = figure(width=s["W"], height=s["H"], x_range=Range1d(*s["xr"]),
               y_range=Range1d(-60, 0), output_backend="svg", toolbar_location=None,
               min_border_left=s["bl"], min_border_right=s["br"],
               min_border_top=s["bt"], min_border_bottom=s["bb"],
               background_fill_color="white", border_fill_color="white")
    p.outline_line_color = "black"
    p.outline_line_width = 1
    xt = FixedTicker(ticks=s["xmaj"], minor_ticks=s["xmin"])
    yt = FixedTicker(ticks=Y_MAJOR, minor_ticks=Y_MINOR)
    xax = p.xaxis[0]
    yax = p.yaxis[0]
    for ax, t in ((xax, xt), (yax, yt)):
        ax.ticker = t
        style_ticks(ax)
        ax.major_label_text_font = FONT
        ax.major_label_text_font_size = "15px"
        ax.major_label_text_color = "black"
    xax.formatter = PrintfTickFormatter(format=s["fmt"])
    yax.formatter = PrintfTickFormatter(format="%d")
    xax.major_label_standoff = 3
    yax.major_label_standoff = 6
    # the panel tag sits level with the top "0" tick label, as in the reference
    gap = NB * 4 if s["col"] == 0 else NB
    yax.major_label_overrides = {0: s["tag"] + gap + "0"}
    # mirrored axes: minor-only tickers carry the inward marks, no labels
    top = LinearAxis(ticker=FixedTicker(ticks=[], minor_ticks=s["xmin"]))
    right = LinearAxis(ticker=FixedTicker(ticks=[], minor_ticks=Y_MINOR))
    style_ticks(top)
    style_ticks(right)
    p.add_layout(top, "above")
    p.add_layout(right, "right")
    for g, t in ((p.xgrid[0], xt), (p.ygrid[0], yt)):
        g.ticker = t
        g.grid_line_color = GRID
        g.minor_grid_line_color = GRID
        g.grid_line_width = 1
        g.minor_grid_line_width = 1
    if s["col"] == 0:
        yax.axis_label = "S-Parameters (dB)"
        yax.axis_label_text_font = FONT
        yax.axis_label_text_font_size = "16px"
        yax.axis_label_text_font_style = "normal"
        yax.axis_label_standoff = -17
    if s["row"] == 2:
        xax.axis_label = "Frequency (GHz)"
        xax.axis_label_text_font = FONT
        xax.axis_label_text_font_size = "15px"
        xax.axis_label_text_font_style = "normal"
        xax.axis_label_standoff = 2

    rends = []
    for pairs, c in zip(s["curves"], COLORS):
        xs = [q[0] for q in pairs]
        ys = [q[1] for q in pairs]
        rends.append(p.line(xs, ys, line_color=c, line_width=2.5, line_join="round"))

    if s["tag"] == "(a)":
        leg = Legend(items=[LegendItem(label=n, renderers=[r]) for n, r in zip(NAMES, rends)],
                     location="top_left", margin=1, padding=2, spacing=3,
                     glyph_width=33, glyph_height=19, label_height=19, label_standoff=3,
                     label_text_font=FONT, label_text_font_size="16px",
                     border_line_color="black", border_line_width=1,
                     background_fill_color="white", background_fill_alpha=1.0)
        p.add_layout(leg)

    x1 = s["xr"][1]
    common = dict(text_font=FONT, text_font_size="15px", text_color="black",
                  text_baseline="middle")
    p.add_layout(Label(x=x1, y=-15 / ppd, x_offset=-7, text=s["lam"], text_align="right",
                       background_fill_color="white", **common))
    p.add_layout(Label(x=x1, y=-34 / ppd, x_offset=-7, text="=" + s["nc"], text_align="right",
                       background_fill_color="white", **common))
    p.add_layout(Label(x=x1, y=-38 / ppd, x_offset=-32, text="c", text_align="right",
                       background_fill_color="white", text_font=FONT, text_font_size="10px",
                       text_color="black", text_baseline="middle"))
    p.add_layout(Label(x=x1, y=-34 / ppd, x_offset=-37, text="N", text_align="right",
                       background_fill_color="white", **common))
    return p


figs = [make_panel(s) for s in PANELS]
layout = column(row(figs[0], figs[1]), row(figs[2], figs[3]), row(figs[4], figs[5]))

open("out.html", "w").write(file_html(layout, INLINE))
